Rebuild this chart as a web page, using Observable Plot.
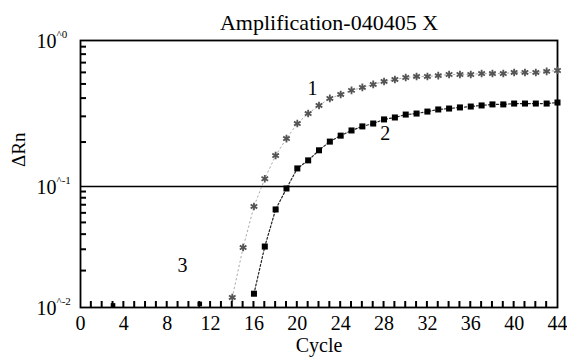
<!DOCTYPE html>
<html>
<head>
<meta charset="utf-8">
<script src="https://cdn.jsdelivr.net/npm/d3@7"></script>
<script src="https://cdn.jsdelivr.net/npm/@observablehq/plot@0.6"></script>
<style>
  html, body { margin: 0; padding: 0; background: #fff; }
  #chart svg { display: block; }
</style>
</head>
<body>
<div id="chart"></div>
<script>
// ---- data ----
const title = "Amplification-040405 X";
const xLabel = "Cycle";
const yLabel = "ΔRn";

// series 1 (grey asterisks)
const s1Cycles = [14,15,16,17,18,19,20,21,22,23,24,25,26,27,28,29,30,31,32,33,34,35,36,37,38,39,40,41,42,43,44];
const s1Values = [0.0121,0.0313,0.0684,0.113,0.163,0.213,0.270,0.316,0.359,0.401,0.427,0.455,0.477,0.500,0.524,0.541,0.558,0.567,0.567,0.575,0.585,0.585,0.585,0.594,0.594,0.594,0.604,0.604,0.604,0.614,0.623];

// series 2 (black squares)
const s2Cycles = [16,17,18,19,20,21,22,23,24,25,26,27,28,29,30,31,32,33,34,35,36,37,38,39,40,41,42,43,44];
const s2Values = [0.0130,0.0319,0.0646,0.0963,0.133,0.151,0.177,0.203,0.223,0.242,0.258,0.270,0.288,0.297,0.311,0.316,0.326,0.337,0.342,0.348,0.353,0.359,0.365,0.365,0.370,0.370,0.370,0.370,0.376];

// isolated baseline points of series 2
const s2BaseCycles = [3, 11];
const s2BaseValues = [0.0104, 0.0107];

// threshold
const threshold = 0.1;

// series labels
const seriesLabels = ["1", "2", "3"];
const labelCycles = [21.4, 28.1, 9.4];
const labelValues = [0.469, 0.231, 0.0222];

// axes
const xTickLabels = [0,4,8,12,16,20,24,28,32,36,40,44];
const xMinorTicks = d3.range(1, 44);
const yTickValues = [1, 0.1, 0.01];
const yTickExponents = ["^0", "^-1", "^-2"];
const yMinorTicks = [0.02,0.03,0.04,0.05,0.06,0.07,0.08,0.09,0.2,0.3,0.4,0.5,0.6,0.7,0.8,0.9];

// ---- build tables ----
const s1 = s1Cycles.map((c, i) => ({cycle: c, value: s1Values[i]}));
const s2 = s2Cycles.map((c, i) => ({cycle: c, value: s2Values[i]}));
const s2b = s2BaseCycles.map((c, i) => ({cycle: c, value: s2BaseValues[i]}));
const lbls = seriesLabels.map((t, i) => ({t, cycle: labelCycles[i], value: labelValues[i]}));
const yl = yTickValues.map((v, i) => ({v, e: yTickExponents[i]}));

const W = 567, H = 363;
const mL = 80, mR = 10, mT = 40, mB = 56;
const tickLen = 6;
const font = "Liberation Serif, Times New Roman, serif";

const plot = Plot.plot({
  width: W,
  height: H,
  marginLeft: mL,
  marginRight: mR,
  marginTop: mT,
  marginBottom: mB,
  style: {fontFamily: font, fontSize: "19px", color: "#000", background: "#fff"},
  x: {domain: [0, 44], axis: null},
  y: {type: "log", domain: [0.01, 0.1, 1], range: [H - mB, 186, mT], axis: null},
  marks: [
    Plot.frame({stroke: "#000", strokeWidth: 1.8}),
    Plot.axisX({ticks: xTickLabels, tickSize: 0, tickPadding: 8, fontSize: 20, label: null}),
    // threshold
    Plot.ruleY([threshold], {stroke: "#000", strokeWidth: 1.6}),
    // series 1
    Plot.line(s1, {x: "cycle", y: "value", stroke: "#aaa", strokeWidth: 1, strokeDasharray: "1.5,3"}),
    Plot.dot(s1, {x: "cycle", y: "value", symbol: "asterisk", r: 3.6, stroke: "#555", strokeWidth: 1.8}),
    // series 2
    Plot.line(s2, {x: "cycle", y: "value", stroke: "#222", strokeWidth: 1.2, strokeDasharray: "2,2"}),
    Plot.dot(s2, {x: "cycle", y: "value", symbol: "square", r: 3.4, fill: "#000", stroke: "none"}),
    Plot.dot(s2b, {x: "cycle", y: "value", symbol: "square", r: 2.6, fill: "#000", stroke: "none"}),
    // series labels
    Plot.text(lbls, {x: "cycle", y: "value", text: "t", fontSize: 20, fill: "#000"}),
    // y tick labels: "10" with superscript-ish exponent
    Plot.text(yl, {y: "v", text: () => "10", frameAnchor: "left", textAnchor: "end", dx: -24, dy: 1, fontSize: 20}),
    Plot.text(yl, {y: "v", text: "e", frameAnchor: "left", textAnchor: "start", dx: -24, dy: -6, fontSize: 11}),
    // title
    Plot.text([title], {text: d => d, frameAnchor: "top", dx: 10, dy: -26, fontSize: 22}),
    // x label
    Plot.text([xLabel], {text: d => d, frameAnchor: "bottom", dy: 44, fontSize: 20}),
    // y label
    Plot.text([yLabel], {text: d => d, frameAnchor: "left", dx: -62, dy: -7, rotate: -90, fontSize: 19})
  ]
});

// inward minor ticks, positioned through the plot's own scales
const sx = plot.scale("x"), sy = plot.scale("y");
const yBottom = sy.apply(0.01), xLeft = sx.apply(0);
const g = d3.select(plot).append("g").attr("class", "minor-ticks")
  .attr("stroke", "#000").attr("stroke-width", 2);
g.selectAll("line.xt").data(xMinorTicks).join("line").attr("class", "xt")
  .attr("x1", d => sx.apply(d)).attr("x2", d => sx.apply(d))
  .attr("y1", yBottom).attr("y2", yBottom - tickLen);
g.selectAll("line.yt").data(yMinorTicks).join("line").attr("class", "yt")
  .attr("y1", d => sy.apply(d)).attr("y2", d => sy.apply(d))
  .attr("x1", xLeft).attr("x2", xLeft + tickLen);

document.getElementById("chart").appendChild(plot);
</script>
</body>
</html>
